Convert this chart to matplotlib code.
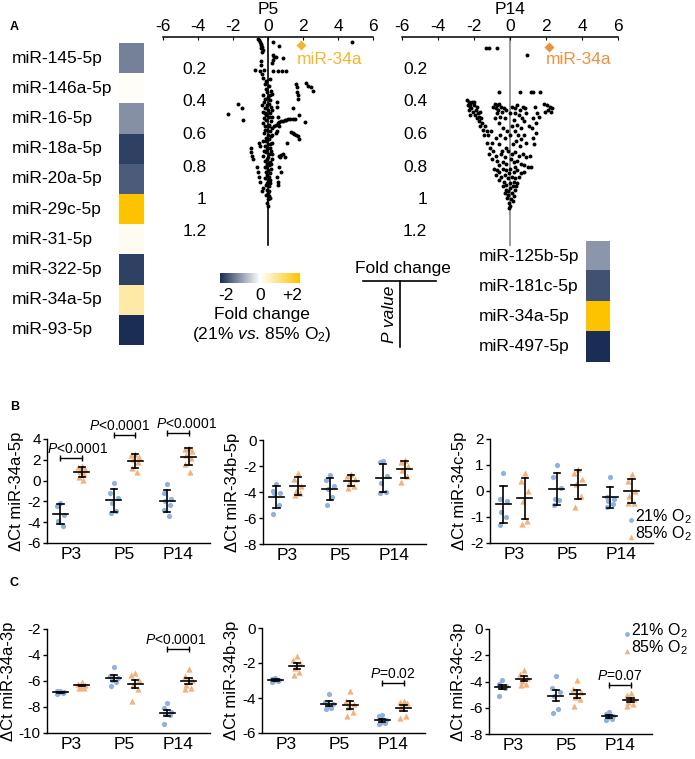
import numpy as np
import matplotlib
matplotlib.use("Agg")
import matplotlib.pyplot as plt
from matplotlib.colors import LinearSegmentedColormap, Normalize
from matplotlib.cm import ScalarMappable

plt.rcParams['font.family'] = ['Liberation Sans', 'DejaVu Sans']
plt.rcParams['mathtext.fontset'] = 'custom'
plt.rcParams['mathtext.rm'] = 'Liberation Sans'
plt.rcParams['mathtext.it'] = 'Liberation Sans:italic'
plt.rcParams['axes.unicode_minus'] = False

# ---- données panneau A ----
left_mirs = ["miR-145-5p", "miR-146a-5p", "miR-16-5p", "miR-18a-5p", "miR-20a-5p",
             "miR-29c-5p", "miR-31-5p", "miR-322-5p", "miR-34a-5p", "miR-93-5p"]
left_fc = [-1.2, 0.05, -1.05, -1.8, -1.55, 2.0, 0.1, -1.8, 0.7, -2.0]
right_mirs = ["miR-125b-5p", "miR-181c-5p", "miR-34a-5p", "miR-497-5p"]
right_fc = [-1.0, -1.65, 2.0, -2.0]
pval_ticks = [0.2, 0.4, 0.6, 0.8, 1, 1.2]

p5_points = [
    (-0.55, 0.01), (-0.5, 0.02), (-0.45, 0.03), (-0.4, 0.04), (-0.38, 0.05), (-0.35, 0.06),
    (-0.42, 0.07), (-0.3, 0.08), (-0.35, 0.09), (0.3, 0.03), (0.6, 0.055), (0.3, 0.11),
    (0.35, 0.12), (0.45, 0.125), (0.3, 0.14), (0.85, 0.13), (-0.38, 0.15), (-0.42, 0.17),
    (0.2, 0.16), (-0.75, 0.2), (-0.45, 0.21), (-0.25, 0.2), (0.3, 0.21), (0.55, 0.21),
    (0.8, 0.21), (1.05, 0.21), (-0.35, 0.23), (-0.3, 0.25), (-0.1, 0.27), (0.1, 0.26),
    (4.8, 0.03),
    (1.62, 0.29), (1.68, 0.31), (1.65, 0.34), (1.7, 0.36), (1.72, 0.38), (2.15, 0.285),
    (2.3, 0.3), (2.45, 0.31), (2.55, 0.33),
    (-0.2, 0.29), (0.05, 0.3), (-0.1, 0.32), (0.15, 0.33), (-0.05, 0.34), (0.2, 0.35),
    (-0.3, 0.36), (0.0, 0.37), (-0.15, 0.38), (0.1, 0.39), (0.5, 0.4), (-0.25, 0.4),
    (0.05, 0.41), (-0.35, 0.42), (0.15, 0.43), (0.5, 0.43), (-0.2, 0.44), (0.0, 0.45),
    (0.25, 0.45), (-0.3, 0.46), (0.1, 0.47), (-0.1, 0.48), (0.2, 0.49), (0.57, 0.49),
    (-0.25, 0.5), (-0.05, 0.42), (0.12, 0.36), (-0.18, 0.47), (0.03, 0.49),
    (-1.7, 0.41), (-1.5, 0.44), (-2.3, 0.475), (-1.45, 0.51), (1.43, 0.44), (1.77, 0.48),
    (2.1, 0.525),
    (0.45, 0.54), (0.55, 0.53), (0.65, 0.525), (0.75, 0.52), (0.85, 0.515), (0.95, 0.51),
    (1.05, 0.51), (1.15, 0.505), (1.25, 0.505), (1.4, 0.505), (1.55, 0.505), (0.35, 0.55),
    (0.5, 0.58), (1.3, 0.585), (1.4, 0.59), (1.5, 0.595), (1.6, 0.6), (1.7, 0.61),
    (1.75, 0.625), (1.1, 0.65), (0.45, 0.59), (0.6, 0.55),
    (-0.1, 0.51), (0.15, 0.52), (-0.3, 0.53), (0.05, 0.54), (-0.15, 0.55), (0.2, 0.56),
    (-0.05, 0.57), (0.1, 0.58), (-0.25, 0.59), (0.0, 0.6), (0.15, 0.61), (-0.1, 0.62),
    (0.05, 0.63), (-0.3, 0.64), (0.2, 0.65), (0.0, 0.66), (-0.2, 0.67), (0.1, 0.68),
    (-0.05, 0.69), (0.15, 0.7), (-0.1, 0.71), (0.05, 0.72), (-0.3, 0.73), (0.0, 0.74),
    (0.2, 0.75), (-0.15, 0.76), (0.1, 0.77), (-0.05, 0.78), (0.05, 0.79), (-0.2, 0.8),
    (0.15, 0.81), (0.0, 0.82), (-0.1, 0.83), (0.1, 0.84), (-0.05, 0.85), (0.05, 0.86),
    (-0.15, 0.87), (0.0, 0.88), (0.1, 0.9), (-0.1, 0.91), (0.05, 0.92), (-0.05, 0.94),
    (0.0, 0.96), (-0.1, 0.97), (0.05, 0.98), (0.0, 1.0), (-0.05, 1.02), (0.0, 1.04),
    (0.08, 0.55), (-0.2, 0.57), (0.22, 0.6), (-0.12, 0.64), (0.12, 0.66), (-0.25, 0.7),
    (0.25, 0.72), (-0.08, 0.75), (0.18, 0.78), (-0.12, 0.8), (0.1, 0.88), (-0.08, 0.9),
    (0.08, 0.95), (0.1, 0.99),
    (-0.95, 0.685), (-0.95, 0.705), (-0.9, 0.73), (-0.85, 0.75), (-0.5, 0.65), (-0.45, 0.67),
    (0.65, 0.73), (0.75, 0.725), (0.85, 0.72), (0.95, 0.74), (0.7, 0.74),
    (-0.65, 0.8), (-0.6, 0.83), (-0.5, 0.86), (-0.45, 0.89), (-0.3, 0.93), (-0.35, 0.95),
    (0.6, 0.8), (0.75, 0.83), (0.5, 0.86), (0.55, 0.89), (0.55, 0.91),
]
p14_points = [
    (-1.33, 0.066), (-1.19, 0.066), (-0.7, 0.066), (0.93, 0.11),
    (-0.59, 0.336), (0.56, 0.336), (1.15, 0.336), (1.3, 0.336), (1.67, 0.336),
    (-2.4, 0.39), (-2.3, 0.40), (-2.2, 0.41), (-2.1, 0.40), (-2.35, 0.42), (-2.25, 0.43),
    (-2.0, 0.42), (-2.15, 0.44), (-2.3, 0.45), (-2.05, 0.46), (-1.9, 0.45), (-1.8, 0.47),
    (-1.95, 0.48), (-1.7, 0.49), (-2.2, 0.48), (-1.85, 0.5), (-1.6, 0.5), (-1.75, 0.52),
    (-1.55, 0.53), (-1.65, 0.55), (-1.4, 0.55), (-1.5, 0.57), (-1.3, 0.58), (-1.45, 0.6),
    (-1.2, 0.6),
    (-0.85, 0.41), (-0.75, 0.42), (-0.6, 0.41), (-0.5, 0.43), (-0.8, 0.44), (-0.65, 0.45),
    (-0.45, 0.46), (-0.7, 0.47), (-0.55, 0.49), (-0.35, 0.44), (-0.2, 0.45), (-0.85, 0.5),
    (-0.6, 0.53), (-0.4, 0.56), (-0.55, 0.6), (-0.8, 0.62), (-0.3, 0.62), (-1.0, 0.65),
    (-0.6, 0.66), (-0.2, 0.68),
    (0.1, 0.43), (0.25, 0.44), (0.4, 0.42), (0.55, 0.45), (0.7, 0.43), (0.85, 0.44),
    (0.3, 0.47), (0.5, 0.48), (0.65, 0.5), (0.2, 0.51), (0.8, 0.52), (0.4, 0.54),
    (0.1, 0.55), (0.6, 0.56), (0.25, 0.58), (0.45, 0.6), (0.0, 0.6), (0.75, 0.6),
    (0.35, 0.64), (0.15, 0.66), (0.55, 0.67), (0.9, 0.65),
    (1.9, 0.41), (2.05, 0.42), (2.2, 0.43), (2.35, 0.44), (2.1, 0.45), (1.95, 0.46),
    (2.25, 0.46), (1.4, 0.43), (1.5, 0.47), (1.3, 0.5), (1.45, 0.53), (1.6, 0.49),
    (1.2, 0.56), (1.45, 0.59), (1.25, 0.62), (1.35, 0.66),
    (-1.3, 0.65), (-1.1, 0.68), (-0.95, 0.7), (-1.15, 0.72), (-0.8, 0.73), (-1.0, 0.75),
    (-0.7, 0.76), (-0.5, 0.72), (-0.3, 0.74), (-0.1, 0.7), (0.1, 0.72), (0.3, 0.71),
    (0.5, 0.73), (0.7, 0.72), (0.9, 0.74), (1.1, 0.73), (0.4, 0.76), (0.6, 0.78),
    (0.2, 0.77), (-0.2, 0.78), (-0.6, 0.79), (0.8, 0.79), (1.0, 0.8), (1.15, 0.8),
    (-0.9, 0.81), (-0.75, 0.82), (-0.6, 0.83), (-0.4, 0.81), (-0.2, 0.82), (0.0, 0.81),
    (0.2, 0.83), (0.4, 0.82), (0.6, 0.84), (0.75, 0.83), (-0.8, 0.85), (-0.5, 0.86),
    (-0.3, 0.85), (-0.1, 0.87), (0.1, 0.86), (0.3, 0.87), (0.5, 0.86), (-0.6, 0.88),
    (-0.35, 0.89), (0.0, 0.9), (0.2, 0.89), (0.4, 0.9), (-0.2, 0.91),
    (-0.4, 0.92), (-0.2, 0.94), (0.0, 0.93), (0.25, 0.94), (0.35, 0.92), (-0.3, 0.96),
    (-0.1, 0.97), (0.1, 0.96), (0.2, 0.98), (-0.15, 0.99), (0.05, 1.0), (0.15, 1.01),
    (-0.05, 1.02), (0.0, 1.04), (-0.05, 1.05),
    (-2.0, 0.4), (-1.85, 0.43), (-1.65, 0.46), (-0.95, 0.43), (-0.3, 0.5), (0.0, 0.47),
    (0.9, 0.47), (1.05, 0.55), (-1.05, 0.58), (-0.15, 0.58), (0.6, 0.63), (-0.45, 0.7),
    (0.05, 0.75), (-0.4, 0.77), (0.3, 0.8), (-0.05, 0.84), (0.15, 0.92), (-0.1, 0.95),
]
p5_mir34a = (1.87, 0.05)
p14_mir34a = (2.17, 0.06)

# ---- données panneaux B et C (ΔCt par groupe P3, P5, P14) ----
groups = ["P3", "P5", "P14"]
b1_blue = [[-2.2, -2.4, -3.3, -3.9, -4.4], [-0.2, -1.2, -1.7, -2.2, -2.9, -3.1],
           [-0.3, -1.2, -1.8, -2.0, -2.3, -2.8, -3.4]]
b1_orange = [[1.4, 1.3, 1.1, 0.9, 0.6, 0.3, 0.1], [2.6, 2.5, 2.3, 2.1, 1.8, 1.2, 0.8],
             [3.1, 3.0, 2.8, 2.5, 2.2, 1.6, 0.8]]
b2_blue = [[-3.4, -3.9, -4.1, -4.1, -5.0, -5.7], [-2.7, -3.1, -3.5, -3.8, -4.4, -5.0],
           [-1.6, -1.7, -2.8, -3.3, -4.0, -4.1]]
b2_orange = [[-2.5, -3.0, -3.5, -3.9, -4.1, -4.2], [-2.6, -2.8, -3.0, -3.3, -3.5, -3.7],
             [-1.5, -1.7, -2.0, -2.3, -2.8, -3.2]]
b3_blue = [[0.7, -0.3, -0.4, -0.8, -1.0, -1.3], [1.0, 0.55, 0.1, -0.3, -0.35, -0.55],
           [0.55, -0.25, -0.3, -0.4, -0.5, -0.6]]
b3_orange = [[0.7, 0.4, 0.0, -0.4, -1.15, -1.25], [0.85, 0.7, 0.45, 0.25, -0.2, -0.6],
             [0.65, 0.4, 0.0, -0.2, -0.45, -0.45]]
c1_blue = [[-6.75, -6.8, -6.85, -6.9, -6.95, -7.0], [-4.9, -5.6, -5.75, -5.9, -6.1, -6.4],
           [-7.7, -8.1, -8.4, -8.55, -8.65, -9.3]]
c1_orange = [[-6.1, -6.2, -6.3, -6.4, -6.5, -6.55], [-5.4, -5.55, -5.95, -6.3, -6.6, -7.5],
             [-5.1, -5.6, -5.9, -6.3, -6.5, -6.6]]
c2_blue = [[-2.85, -2.9, -2.95, -3.0, -3.05, -3.1], [-3.75, -4.2, -4.35, -4.45, -4.55, -4.6],
           [-4.95, -5.05, -5.25, -5.4, -5.45, -5.5]]
c2_orange = [[-1.6, -1.85, -2.0, -2.3, -2.5, -2.7], [-3.6, -4.15, -4.35, -4.5, -4.8, -5.0],
             [-4.15, -4.2, -4.3, -4.5, -5.05, -5.15]]
c3_blue = [[-3.85, -4.2, -4.35, -4.4, -4.5, -5.1], [-3.6, -4.5, -4.8, -5.1, -6.1, -6.4],
           [-6.3, -6.5, -6.65, -6.75, -6.85, -6.9]]
c3_orange = [[-3.1, -3.4, -3.75, -3.95, -4.2, -4.3], [-3.9, -4.6, -4.8, -5.15, -5.35, -5.9],
             [-4.9, -5.05, -5.3, -5.55, -5.75, -5.85]]

BLUE = "#8fb1de"
ORANGE = "#f4b17b"
JIT = [0.0, -0.07, 0.07, -0.04, 0.05, -0.06, 0.03]

W, H = 695, 759
fig = plt.figure(figsize=(W / 100, H / 100), dpi=100)


def box(l, t, r, b):
    return fig.add_axes([l / W, 1 - b / H, (r - l) / W, (b - t) / H])


ov = box(0, 0, W, H)
ov.set_xlim(0, W)
ov.set_ylim(H, 0)
ov.axis('off')

cmap = LinearSegmentedColormap.from_list("fc", ["#1a2d55", "#ffffff", "#fdc300"])

# ---- heatmaps ----
hl = box(119, 43, 144, 345)
hl.imshow(np.array(left_fc).reshape(-1, 1), cmap=cmap, vmin=-2, vmax=2, aspect='auto')
hl.axis('off')
for i, name in enumerate(left_mirs):
    ov.text(12, 43 + (i + 0.5) * 30.2, name, ha='left', va='center', fontsize=12.5)

hr = box(586, 241, 610, 362)
hr.imshow(np.array(right_fc).reshape(-1, 1), cmap=cmap, vmin=-2, vmax=2, aspect='auto')
hr.axis('off')
for i, name in enumerate(right_mirs):
    ov.text(479, 241 + (i + 0.5) * 30.2, name, ha='left', va='center', fontsize=12.5)

# ---- volcano plots ----
def volcano(l, r, pts, line_col, hl_pt, hl_col, lab_x):
    ax = box(l, 37, r, 37 + 1.3 * 162.5)
    fc, p = zip(*pts)
    ax.set_xlim(-6, 6)
    ax.set_ylim(1.3, 0)
    ax.plot([0, 0], [0, 1.28], color=line_col, lw=1.2, zorder=1)
    ax.scatter(fc, p, s=8, color='black', linewidths=0, zorder=2)
    ax.scatter([hl_pt[0]], [hl_pt[1]], marker='D', s=26, color=hl_col, linewidths=0, zorder=3)
    ax.text(hl_pt[0] - 0.2, 0.14, "miR-34a", color=hl_col, fontsize=12.5, va='center')
    for s in ['left', 'right', 'bottom']:
        ax.spines[s].set_visible(False)
    ax.spines['top'].set_linewidth(1.1)
    ax.xaxis.tick_top()
    ax.set_xticks(range(-6, 7, 2))
    ax.tick_params(axis='x', length=2, direction='in', pad=2, labelsize=12.5)
    ax.set_yticks([])
    ax.patch.set_alpha(0)
    for v in pval_ticks:
        ax.text(lab_x, v, f"{v:g}", ha='right', va='center', fontsize=12.5)
    return ax


volcano(163, 373, p5_points, 'black', p5_mir34a, "#f5b52c", -3.5)
volcano(402, 618, p14_points, '#8a8a8a', p14_mir34a, "#ef9040", -4.6)
ov.text(268, 10, "P5", ha='center', va='center', fontsize=12.5)
ov.text(510, 10, "P14", ha='center', va='center', fontsize=12.5)

# ---- barre de couleur ----
cb = box(220, 273, 300, 283)
cbar = fig.colorbar(ScalarMappable(Normalize(-2, 2), cmap), cax=cb, orientation='horizontal')
cbar.outline.set_visible(False)
cb.set_xticks([])
ov.text(226, 296, "-2", ha='center', va='center', fontsize=12.5)
ov.text(260, 296, "0", ha='center', va='center', fontsize=12.5)
ov.text(292, 296, "+2", ha='center', va='center', fontsize=12.5)
ov.text(262, 314, "Fold change", ha='center', va='center', fontsize=12.5)
ov.text(262, 334, r"(21% $\it{vs}$. 85% O$_2$)", ha='center', va='center', fontsize=12.5)

# légende fold change / P value
ov.text(403, 268, "Fold change", ha='center', va='center', fontsize=12.5)
ov.plot([363, 436], [281, 281], color='black', lw=1.2)
ov.plot([400, 400], [281, 347], color='black', lw=1.2)
ov.text(389, 314, "P value", rotation=90, ha='center', va='center', fontsize=12.5, style='italic')

ov.text(10, 27, "A", fontsize=9, fontweight='bold', va='center')
ov.text(10, 407, "B", fontsize=9, fontweight='bold', va='center')
ov.text(10, 583, "C", fontsize=9, fontweight='bold', va='center')


# ---- dot plots ----
def dotplot(l, t, b, ylim, yticks, ylabel, blue, orange, sem=False, brackets=()):
    ax = box(l, t, l + 163, b)
    for g in range(3):
        for vals, dx, col, mk, sz in [(blue[g], -0.2, BLUE, 'o', 14), (orange[g], 0.2, ORANGE, '^', 20)]:
            v = np.array(vals)
            xs = g + dx + np.array(JIT[:len(v)])
            ax.scatter(xs, v, s=sz, marker=mk, color=col, linewidths=0, zorder=2)
            m = v.mean()
            e = v.std(ddof=1)
            if sem:
                e /= np.sqrt(len(v))
            x0 = g + dx
            ax.plot([x0 - 0.14, x0 + 0.14], [m, m], color='black', lw=1.2, zorder=3)
            ax.plot([x0, x0], [m - e, m + e], color='black', lw=1.2, zorder=3)
            for y in (m - e, m + e):
                ax.plot([x0 - 0.06, x0 + 0.06], [y, y], color='black', lw=1.2, zorder=3)
    for g, y, txt, tdx in brackets:
        ax.plot([g - 0.2, g + 0.2], [y, y], color='black', lw=1, marker='|', markersize=5,
                clip_on=False)
        ax.annotate(txt, (g + tdx, y), xytext=(0, 1.5), textcoords='offset points',
                    ha='center', va='bottom', fontsize=10, annotation_clip=False)
    ax.set_xlim(-0.45, 2.6)
    ax.set_ylim(*ylim)
    ax.set_yticks(yticks)
    ax.set_xticks(range(3))
    ax.set_xticklabels(groups)
    ax.tick_params(axis='y', length=3, width=1, pad=1.5, labelsize=11)
    ax.tick_params(axis='x', length=0, pad=3, labelsize=12.5)
    ax.set_ylabel(ylabel, fontsize=12, labelpad=2)
    for s in ['top', 'right']:
        ax.spines[s].set_visible(False)
    for s in ['left', 'bottom']:
        ax.spines[s].set_linewidth(1)
    ax.patch.set_alpha(0)
    return ax


dotplot(47, 439, 543, (-6, 4), range(-6, 5, 2), "ΔCt miR-34a-5p", b1_blue, b1_orange,
        brackets=[(0, 2.2, r"$\it{P}$<0.0001", 0.12), (1, 4.4, r"$\it{P}$<0.0001", -0.1),
                  (2, 4.6, r"$\it{P}$<0.0001", 0.17)])
dotplot(263, 440, 544, (-8, 0), range(-8, 1, 2), "ΔCt miR-34b-5p", b2_blue, b2_orange)
dotplot(490, 439, 543, (-2, 2), range(-2, 3), "ΔCt miR-34c-5p", b3_blue, b3_orange)
dotplot(47, 629, 733, (-10, -2), range(-10, -1, 2), "ΔCt miR-34a-3p", c1_blue, c1_orange,
        sem=True, brackets=[(2, -3.54, r"$\it{P}$<0.0001", -0.05)])
dotplot(262, 628, 733, (-6, 0), range(-6, 1, 2), "ΔCt miR-34b-3p", c2_blue, c2_orange,
        sem=True, brackets=[(2, -3.16, r"$\it{P}$=0.02", 0.0)])
dotplot(489, 629, 734, (-8, 0), range(-8, 1, 2), "ΔCt miR-34c-3p", c3_blue, c3_orange,
        sem=True, brackets=[(2, -4.27, r"$\it{P}$=0.07", 0.0)])

# légendes O2
for (mx, y1, y2) in [(631, 517, 534), (627, 631, 648)]:
    ov.scatter([mx], [y1 + 3], s=12, marker='o', color=BLUE, linewidths=0)
    ov.scatter([mx], [y2 + 3], s=16, marker='^', color=ORANGE, linewidths=0)
    ov.text(mx + 4, y1, "21% O$_2$", ha='left', va='center', fontsize=11.5)
    ov.text(mx + 4, y2, "85% O$_2$", ha='left', va='center', fontsize=11.5)

fig.savefig("out.png", dpi=100)
